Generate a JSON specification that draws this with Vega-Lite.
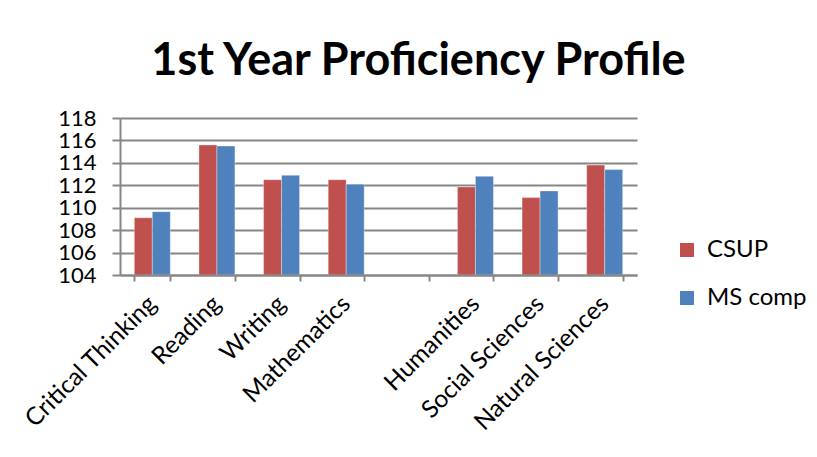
{
  "$schema": "https://vega.github.io/schema/vega-lite/v6.json",
  "width": 517,
  "height": 157,
  "autosize": {"type": "none"},
  "padding": {"left": 120, "top": 118, "right": 180, "bottom": 182},
  "background": "white",
  "title": {
    "text": "1st Year Proficiency Profile",
    "font": "Lato",
    "fontSize": 45,
    "fontWeight": "bold",
    "color": "black",
    "anchor": "middle",
    "baseline": "alphabetic",
    "offset": -13,
    "dx": 40
  },
  "data": {
    "values": [
      {"subject": "Critical Thinking", "group": "CSUP", "score": 109.1},
      {"subject": "Critical Thinking", "group": "MS comp", "score": 109.65},
      {"subject": "Reading", "group": "CSUP", "score": 115.6},
      {"subject": "Reading", "group": "MS comp", "score": 115.5},
      {"subject": "Writing", "group": "CSUP", "score": 112.5},
      {"subject": "Writing", "group": "MS comp", "score": 112.9},
      {"subject": "Mathematics", "group": "CSUP", "score": 112.5},
      {"subject": "Mathematics", "group": "MS comp", "score": 112.1},
      {"subject": "Humanities", "group": "CSUP", "score": 111.85},
      {"subject": "Humanities", "group": "MS comp", "score": 112.8},
      {"subject": "Social Sciences", "group": "CSUP", "score": 110.9},
      {"subject": "Social Sciences", "group": "MS comp", "score": 111.5},
      {"subject": "Natural Sciences", "group": "CSUP", "score": 113.8},
      {"subject": "Natural Sciences", "group": "MS comp", "score": 113.4}
    ]
  },
  "mark": {"type": "bar", "stroke": "#ffffff", "strokeOpacity": 0.35, "strokeWidth": 1},
  "encoding": {
    "x": {
      "field": "subject",
      "type": "nominal",
      "sort": null,
      "scale": {
        "domain": ["Critical Thinking", "Reading", "Writing", "Mathematics", " ", "Humanities", "Social Sciences", "Natural Sciences"],
        "paddingInner": 0.443,
        "paddingOuter": 0.2215
      },
      "axis": {
        "title": null,
        "tickBand": "extent",
        "labelAngle": -45,
        "labelAlign": "right",
        "labelBaseline": "middle",
        "labelFont": "Lato",
        "labelFontSize": 24.5,
        "labelColor": "black",
        "labelPadding": 19,
        "labelOverlap": false,
        "labelLimit": 300,
        "domainColor": "#868686",
        "domainWidth": 2,
        "tickColor": "#868686",
        "tickWidth": 2,
        "tickSize": 6,
        "grid": false,
        "zindex": 1
      }
    },
    "xOffset": {"field": "group", "type": "nominal", "scale": {"paddingInner": 0, "paddingOuter": 0}},
    "y": {
      "field": "score",
      "type": "quantitative",
      "scale": {"domain": [104, 118], "nice": false, "zero": false},
      "axis": {
        "title": null,
        "values": [104, 106, 108, 110, 112, 114, 116, 118],
        "labelFont": "Lato",
        "labelFontSize": 22,
        "labelColor": "black",
        "labelPadding": 16,
        "labelOverlap": false,
        "labelBound": false,
        "tickSize": 8,
        "tickColor": "#868686",
        "tickWidth": 2,
        "domainColor": "#868686",
        "domainWidth": 2,
        "grid": true,
        "gridColor": "#868686",
        "gridWidth": 2
      }
    },
    "y2": {"datum": 104},
    "color": {
      "field": "group",
      "type": "nominal",
      "scale": {"domain": ["CSUP", "MS comp"], "range": ["#C0504D", "#4F81BD"]},
      "legend": {
        "title": null,
        "orient": "none",
        "legendX": 555,
        "legendY": 120,
        "symbolType": "square",
        "symbolSize": 196,
        "symbolStrokeWidth": 0,
        "labelFont": "Lato",
        "labelFontSize": 24,
        "labelColor": "black",
        "labelOffset": 8,
        "rowPadding": 24
      }
    }
  },
  "config": {"view": {"stroke": null}}
}
